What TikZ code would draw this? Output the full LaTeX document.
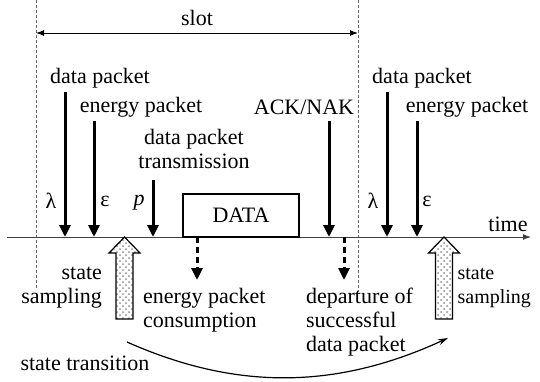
\documentclass[tikz,border=0pt]{standalone}
\usepackage{fontspec}
\setmainfont{Liberation Serif}
\usetikzlibrary{arrows.meta,patterns}
\tikzset{
  packet/.style={line width=1.5pt,-{Triangle[length=6pt,width=5.5pt]}},
  leave/.style={packet,dash pattern=on 3pt off 2pt},
  slotline/.style={black!60,line width=0.5pt,dash pattern=on 1.5pt off 1pt},
  sampling/.style={draw=black,line width=0.6pt,pattern=crosshatch dots,pattern color=black!45}
}
\begin{document}
\begin{tikzpicture}[x=0.5pt,y=-0.5pt,font=\fontsize{11}{12}\selectfont]
        \useasboundingbox (0,0) rectangle (540,381);
        % Slot
        \draw[slotline] (36,0) -- (36,290);
        \draw[slotline] (358,0) -- (358,292);
        \coordinate (slotL) at (36,33);
        \coordinate (slotR) at (358,33);
        \draw[line width=0.5pt,{Latex[length=4pt,width=3pt]}-{Latex[length=4pt,width=3pt]}] (slotL) -- (slotR);
        \node (slot) at (197,18) {slot};

        % Axis
        \coordinate (t0) at (7,237);
        \coordinate (t1) at (531,237);
        \draw[black!75,line width=0.5pt,-{Latex[length=4pt,width=3pt]}] (t0) -- (t1);
        \node (time) at (508,224) {time};

        % Arrivals in the slot
        \node (dp1) at (100,78) {data packet};
        \node (ep1) at (141,107) {energy packet};
        \node[align=center] (tx) at (194,149) {data packet\\transmission};
        \node (ack) at (304,107) {ACK/NAK};
        \coordinate (lamtop1) at (65,92);   \coordinate (lam1) at (65,237);
        \coordinate (epstop1) at (94,121);  \coordinate (eps1) at (94,237);
        \coordinate (ptop) at (153,180);    \coordinate (p) at (153,237);
        \coordinate (acktop) at (329,121);  \coordinate (ackend) at (329,237);
        \draw[packet] (lamtop1) -- (lam1);
        \draw[packet] (epstop1) -- (eps1);
        \draw[packet] (ptop) -- (p);
        \draw[packet] (acktop) -- (ackend);
        \node (lambda1) at (51,201) {λ};
        \node (epsilon1) at (105,201) {ε};
        \node (prob) at (139,203) {\textit{p}};

        % Data box
        \node[draw,line width=1pt,minimum width=58pt,minimum height=21.5pt] (data) at (241,215.5) {DATA};

        % Next slot
        \node (dp2) at (422,78) {data packet};
        \node (ep2) at (467,107) {energy packet};
        \coordinate (lamtop2) at (387,92);  \coordinate (lam2) at (387,237);
        \coordinate (epstop2) at (417,121); \coordinate (eps2) at (417,237);
        \draw[packet] (lamtop2) -- (lam2);
        \draw[packet] (epstop2) -- (eps2);
        \node (lambda2) at (373,201) {λ};
        \node (epsilon2) at (427,201) {ε};

        % Departures
        \coordinate (cons0) at (197,237); \coordinate (cons1) at (197,280);
        \coordinate (dep0) at (344,237);  \coordinate (dep1) at (344,280);
        \draw[leave] (cons0) -- (cons1);
        \draw[leave] (dep0) -- (dep1);
        \node[align=left,anchor=west] (cons) at (136,310) {energy packet\\consumption};
        \node[align=left,anchor=west] (dep) at (299,322) {departure of\\successful\\data packet};

        % State sampling
        \foreach \s in {124.5,444} {
          \draw[sampling] (\s-8.5,319) -- (\s-8.5,253) -- (\s-15.5,253) -- (\s,237)
            -- (\s+15.5,253) -- (\s+8.5,253) -- (\s+8.5,319) -- cycle;
        }
        \node[align=right,anchor=east] (samp1) at (109,288) {state\\sampling};
        \node[align=left,anchor=east,font=\fontsize{10}{12}\selectfont] (samp2) at (538,288) {state\\sampling};

        % State transition
        \coordinate (st0) at (127,342);
        \coordinate (st1) at (448,338);
        \draw[line width=0.6pt,-{Stealth[length=5pt,width=3pt]}] (st0) .. controls (235,390) and (335,390) .. (st1);
        \node (trans) at (85,363) {state transition};
\end{tikzpicture}
\end{document}
